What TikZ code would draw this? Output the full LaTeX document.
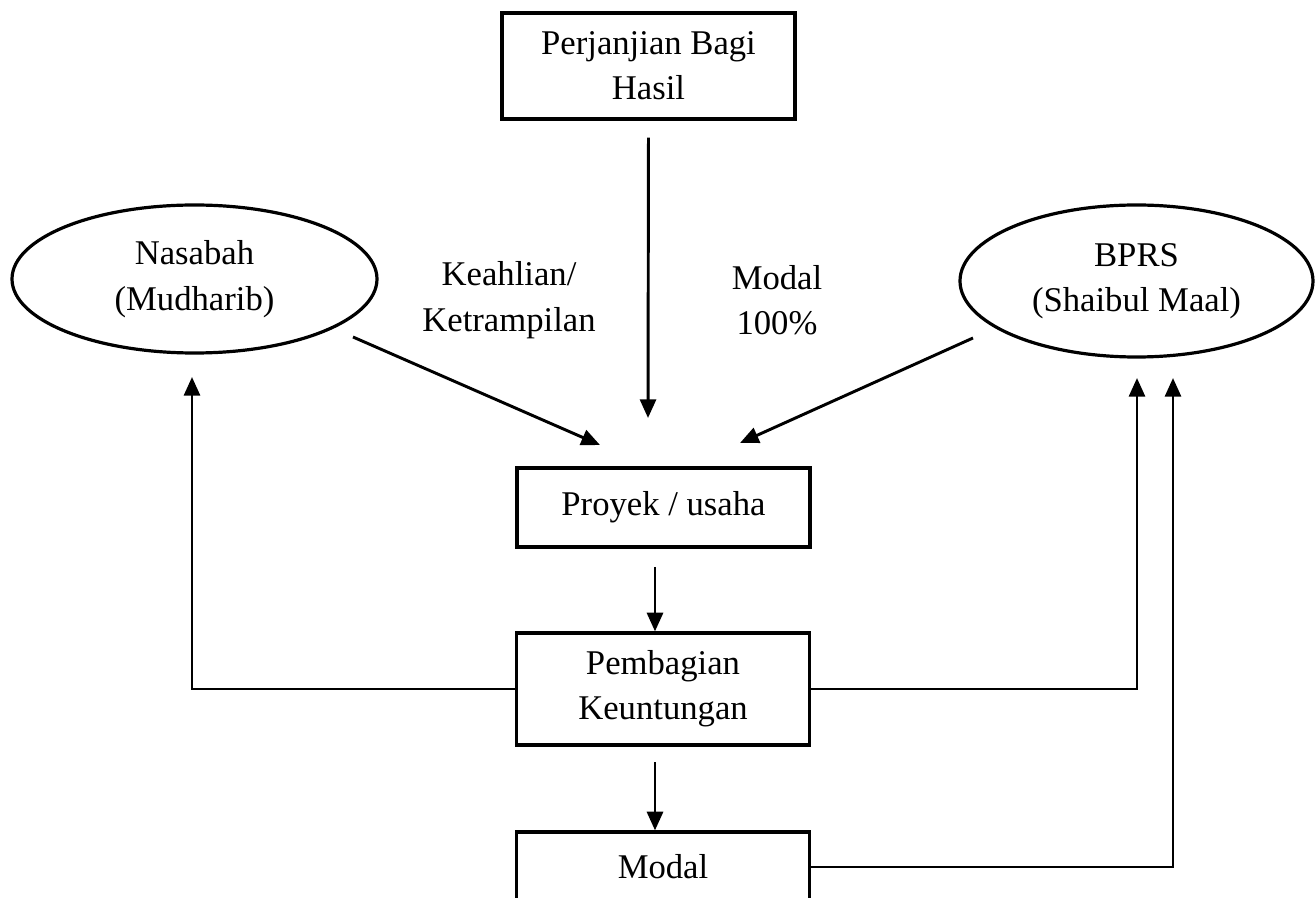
\documentclass[tikz,border=0pt]{standalone}
\usepackage{fontspec}
\setmainfont{Liberation Serif}
\usepackage{tikz}
\usetikzlibrary{arrows.meta,shapes.geometric}

\begin{document}
\begin{tikzpicture}[x=0.75pt,y=0.75pt,yscale=-1,xscale=1,
  every node/.style={font=\fontsize{26}{34}\selectfont},
  box/.style={draw, line width=2.4pt, minimum width=219.75pt, align=center, inner sep=0pt},
  oval/.style={draw, ellipse, line width=2.4pt, align=center, inner sep=0pt},
  lbl/.style={align=center, inner sep=0pt},
  arr/.style={line width=2.2pt, -{Triangle[length=14pt,width=12pt]}}]
%set diagram left start at 0, and has height of 898
\useasboundingbox (0,0) rectangle (1315,898);
\clip (0,0) rectangle (1315,898);

%Shape: Rectangle
\node[box, minimum height=79.5pt] (perjanjian) at (648.5,66) {Perjanjian Bagi\\Hasil};
%Shape: Ellipse
\node[oval, minimum width=273.75pt, minimum height=111pt] (nasabah) at (194.5,279) {Nasabah\\(Mudharib)};
%Shape: Ellipse
\node[oval, minimum width=264.75pt, minimum height=114pt] (bprs) at (1136.5,281) {BPRS\\(Shaibul Maal)};
% Text Node
\node[lbl] (keahlian) at (509,300) {Keahlian/\\Ketrampilan};
% Text Node
\node[lbl] (modalpersen) at (777,300) {Modal\\100\%};
%Shape: Rectangle
\node[box, minimum height=59.25pt] (proyek) at (663.5,507.5) {Proyek / usaha};
%Shape: Rectangle
\node[box, minimum height=84pt] (pembagian) at (663,689) {Pembagian\\Keuntungan};
%Shape: Rectangle
\node[box, minimum height=52.5pt] (modal) at (663,867) {Modal};

\coordinate (perjanjianTip) at (648,418);
\coordinate (nasabahOut) at (353,337);
\coordinate (nasabahTip) at (600,445);
\coordinate (bprsOut) at (973,338);
\coordinate (bprsTip) at (740,443);
\coordinate (flowA) at (655,567);
\coordinate (flowB) at (655,762);
\coordinate (nasabahIn) at (192,377);
\coordinate (bprsInA) at (1137,378);
\coordinate (bprsInB) at (1173,378);

%Straight Lines
\draw[arr, shorten <=12.75pt] (perjanjian.south) -- (perjanjianTip);
\draw[arr] (nasabahOut) -- (nasabahTip);
\draw[arr] (bprsOut) -- (bprsTip);
\draw[arr] (flowA) -- (flowA |- pembagian.north);
\draw[arr] (flowB) -- (flowB |- modal.north);
%Straight Lines
\draw[arr] (pembagian.west) -| (nasabahIn);
\draw[arr] (pembagian.east) -| (bprsInA);
\draw[arr] (modal.east) -| (bprsInB);

\end{tikzpicture}
\end{document}
